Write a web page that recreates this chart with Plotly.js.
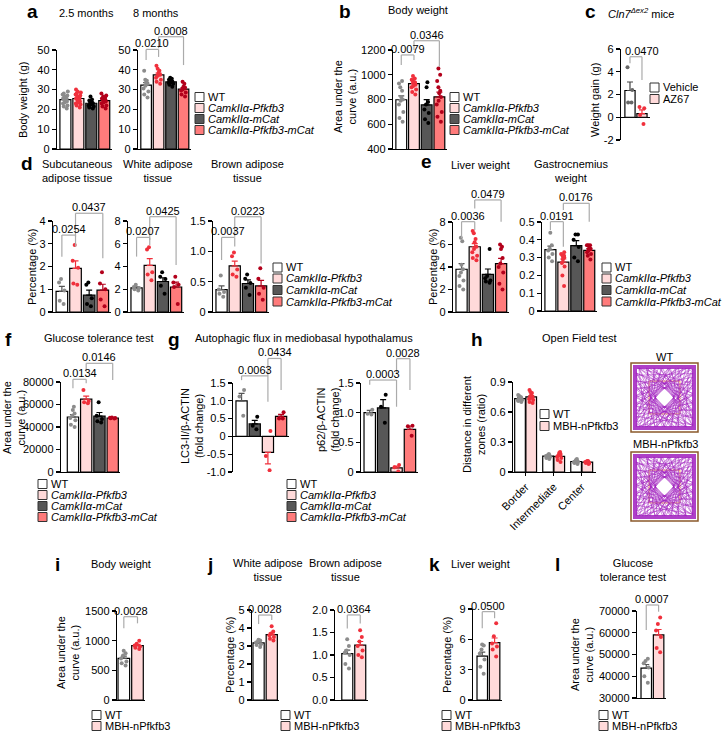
<!DOCTYPE html>
<html><head><meta charset="utf-8">
<script src="https://cdn.plot.ly/plotly-3.0.1.min.js"></script>
<style>body{margin:0;padding:0;background:#fff}#chart{width:722px;height:731px}</style>
</head><body><div id="chart"></div>
<script>
// ================= DATA =================
const camkGroups = ['WT', 'CamkIIα-Pfkfb3', 'CamkIIα-mCat', 'CamkIIα-Pfkfb3-mCat'];
const camkKeys = ['WT', 'P', 'M', 'PM'];
const gGroups = ['WT', 'CamkIIα-mCat', 'CamkIIα-Pfkfb3', 'CamkIIα-Pfkfb3-mCat'];
const gKeys = ['WT', 'M', 'P', 'PM'];
const cGroups = ['Vehicle', 'AZ67'];
const cKeys = ['VEH', 'AZ'];
const mbhGroups = ['WT', 'MBH-nPfkfb3'];
const mbhKeys = ['WT', 'MBH'];

// a: body weight (g)
const a25Mean = [24.9, 25.5, 23.1, 24.4];
const a25Sem = [0.55, 0.55, 0.5, 0.55];
const a25Dots = [
  [20.5, 21.5, 22, 23, 23.5, 24, 24.5, 25, 25, 25.5, 26, 26.5, 27, 27.5, 28, 29],
  [21, 22, 22.5, 23, 23.5, 24, 24.5, 25, 25, 25.5, 26, 26.5, 27, 27.5, 28, 28.5, 29, 30],
  [20.5, 21, 21.5, 22, 22.5, 23, 23, 23.5, 24, 24.5, 25, 26.5],
  [20.5, 21.5, 22, 23, 23.5, 24, 24.5, 25, 25, 25.5, 26, 26.5, 27, 28]
];
const a8Mean = [32.3, 37.4, 33.9, 30.2];
const a8Sem = [1.25, 0.9, 0.4, 0.85];
const a8Dots = [
  [26, 27.5, 29, 30.5, 32, 33, 33.5, 34.5, 35, 39.5],
  [33, 34, 35, 36, 37, 37.5, 38.5, 39.5, 40.5, 42],
  [31.5, 32.5, 33, 33.5, 33.5, 34, 34, 34, 34.5, 35, 35.5, 36],
  [26.5, 27.5, 28.5, 29.5, 30, 31, 31.5, 33, 34]
];
const aPvals = ['0.0210', '0.0008'];
const aTicks = [0, 10, 20, 30, 40, 50];

// b: body weight AUC
const bMean = [798, 928, 757, 822];
const bSem = [32, 13, 42, 38];
const bDots = [
  [620, 650, 700, 760, 790, 800, 820, 870, 900, 930, 950],
  [840, 860, 880, 900, 910, 920, 930, 940, 950, 960, 970, 990],
  [610, 640, 690, 720, 760, 780, 900, 940],
  [620, 660, 700, 760, 790, 820, 850, 870, 900, 950, 1000, 1050]
];
const bPvals = ['0.0079', '0.0346'];
const bTicks = [400, 600, 800, 1000, 1200];

// c: weight gain Cln7 mice
const cMean = [2.35, 0.32];
const cSem = [0.75, 0.33];
const cDots = [[4.4, 2.4, 1.3, 1.3], [0.9, 0.8, 0.2, -0.6]];
const cPvals = ['0.0470'];
const cTicks = [-2, 0, 2, 4, 6];

// d: adipose tissue percentage
const dScMean = [0.91, 1.92, 0.74, 0.96];
const dScSem = [0.22, 0.33, 0.22, 0.26];
const dScDots = [[0.35, 0.5, 0.95, 1.3, 1.45], [1.2, 1.25, 1.95, 2.25, 2.95], [0.25, 0.35, 0.6, 1.2, 1.3], [0.25, 0.55, 1.0, 1.25, 1.75]];
const dScPvals = ['0.0254', '0.0437'];
const dScTicks = [0, 1, 2, 3, 4];
const dWatMean = [2.12, 4.1, 2.68, 2.2];
const dWatSem = [0.09, 0.6, 0.33, 0.42];
const dWatDots = [[1.9, 2.0, 2.1, 2.2, 2.4], [2.8, 3.3, 3.5, 5.5, 5.7], [1.6, 2.3, 2.9, 3.1, 3.5], [0.7, 2.2, 2.4, 2.6, 3.1]];
const dWatPvals = ['0.0207', '0.0425'];
const dWatTicks = [0, 2, 4, 6, 8];
const dBatMean = [0.37, 0.76, 0.47, 0.43];
const dBatSem = [0.06, 0.08, 0.06, 0.09];
const dBatDots = [[0.25, 0.3, 0.33, 0.37, 0.6], [0.58, 0.62, 0.7, 0.92, 0.98], [0.28, 0.4, 0.48, 0.55, 0.62], [0.2, 0.3, 0.4, 0.55, 0.72]];
const dBatPvals = ['0.0037', '0.0223'];
const dBatTicks = [0, 0.5, 1, 1.5];
const dBatTickText = ['0', '0.5', '1.0', '1.5'];

// e: liver / gastrocnemius
const eLivMean = [3.8, 5.8, 3.35, 4.3];
const eLivSem = [0.5, 0.27, 0.47, 0.46];
const eLivDots = [[2.0, 2.3, 2.8, 3.2, 3.5, 3.8, 4.2, 6.3, 6.6], [4.6, 4.8, 5.0, 5.3, 5.6, 5.8, 6.2, 6.5, 7.0, 7.2], [2.6, 2.7, 2.8, 3.0, 3.2, 5.6], [2.0, 2.5, 3.5, 4.0, 4.3, 4.8, 5.6, 5.8, 6.0]];
const eLivPvals = ['0.0036', '0.0479'];
const eLivTicks = [0, 2, 4, 6, 8];
const eGasMean = [0.345, 0.275, 0.367, 0.341];
const eGasSem = [0.02, 0.017, 0.028, 0.009];
const eGasDots = [[0.28, 0.3, 0.32, 0.34, 0.35, 0.37, 0.44], [0.14, 0.2, 0.25, 0.27, 0.29, 0.3, 0.3, 0.31, 0.31, 0.32, 0.33], [0.28, 0.3, 0.36, 0.4, 0.43, 0.43], [0.29, 0.31, 0.32, 0.33, 0.34, 0.35, 0.36, 0.37, 0.37, 0.37]];
const eGasPvals = ['0.0191', '0.0176'];
const eGasTicks = [0, 0.1, 0.2, 0.3, 0.4, 0.5];
const eGasTickText = ['0', '0.1', '0.2', '0.3', '0.4', '0.5'];

// f: glucose tolerance test
const fMean = [48900, 64700, 49600, 48000];
const fSem = [2200, 2800, 3300, 250];
const fDots = [[40000, 42000, 46000, 48000, 50000, 52000, 55000, 58000], [61000, 62000, 63000, 73000], [44000, 45000, 47000, 50000, 62000], [47500, 47700, 48000, 48300, 48500]];
const fPvals = ['0.0134', '0.0146'];
const fTicks = [0, 20000, 40000, 60000, 80000];

// g: autophagic flux (order WT, mCat, Pfkfb3, Pfkfb3-mCat)
const gLc3Mean = [1.0, 0.35, -0.45, 0.56];
const gLc3Sem = [0.21, 0.1, 0.32, 0.06];
const gLc3Dots = [[1.3, 0.58, 1.12], [0.55, 0.3, 0.2], [0.15, -0.55, -0.95], [0.68, 0.5, 0.5]];
const gLc3Pvals = ['0.0063', '0.0434'];
const gLc3Ticks = [-1, -0.5, 0, 0.5, 1, 1.5];
const gLc3TickText = ['-1.0', '-0.5', '0', '0.5', '1.0', '1.5'];
const gP62Mean = [1.0, 1.08, 0.07, 0.72];
const gP62Sem = [0.04, 0.14, 0.03, 0.055];
const gP62Dots = [[1.05, 0.97, 0.98], [1.3, 1.1, 0.83], [0.12, 0.08, 0.01], [0.78, 0.77, 0.61]];
const gP62Pvals = ['0.0003', '0.0028'];
const gP62Ticks = [0, 0.5, 1, 1.5];
const gP62TickText = ['0', '0.5', '1.0', '1.5'];

// h: open field test
const hZones = ['Border', 'Intermediate', 'Center'];
const hWtMean = [0.734, 0.158, 0.105];
const hWtSem = [0.007, 0.006, 0.005];
const hWtDots = [[0.70, 0.71, 0.72, 0.72, 0.73, 0.74, 0.74, 0.75, 0.76, 0.77], [0.13, 0.14, 0.15, 0.16, 0.16, 0.17, 0.17, 0.18], [0.08, 0.09, 0.10, 0.10, 0.11, 0.11, 0.12, 0.13]];
const hMbhMean = [0.751, 0.156, 0.098];
const hMbhSem = [0.013, 0.012, 0.004];
const hMbhDots = [[0.69, 0.70, 0.72, 0.73, 0.74, 0.75, 0.77, 0.79, 0.80, 0.82], [0.10, 0.12, 0.14, 0.15, 0.17, 0.18, 0.19, 0.20], [0.08, 0.09, 0.09, 0.10, 0.10, 0.10, 0.11, 0.11]];
const hTicks = [0, 0.3, 0.6, 0.9];
const hTickText = ['0', '0.3', '0.6', '0.9'];

// i-l: MBH-nPfkfb3
const iMean = [703, 918];
const iSem = [35, 21];
const iDots = [[580, 620, 650, 700, 750, 790, 830], [860, 880, 900, 920, 950, 1000]];
const iPvals = ['0.0028'];
const iTicks = [0, 500, 1000, 1500];
const jWatMean = [3.17, 3.63];
const jWatSem = [0.05, 0.1];
const jWatDots = [[2.95, 3.05, 3.1, 3.2, 3.25, 3.3, 3.35], [3.3, 3.4, 3.5, 3.6, 3.7, 3.8, 4.1]];
const jWatPvals = ['0.0028'];
const jWatTicks = [0, 1, 2, 3, 4, 5];
const jBatMean = [1.03, 1.22];
const jBatSem = [0.08, 0.08];
const jBatDots = [[0.7, 0.8, 1.0, 1.05, 1.1, 1.2, 1.35], [0.95, 1.0, 1.1, 1.2, 1.3, 1.4, 1.55]];
const jBatPvals = ['0.0364'];
const jBatTicks = [0, 0.5, 1, 1.5, 2];
const jBatTickText = ['0.0', '0.5', '1.0', '1.5', '2.0'];
const kMean = [4.34, 5.68];
const kSem = [0.4, 0.45];
const kDots = [[2.6, 3.3, 4.0, 4.6, 5.0, 5.4, 5.5], [4.3, 5.0, 5.3, 5.6, 6.3, 7.6]];
const kPvals = ['0.0500'];
const kTicks = [0, 3, 6, 9];
const lMean = [43700, 59000];
const lSem = [1700, 2500];
const lDots = [[37000, 40000, 44000, 46000, 47000, 48000], [51000, 53000, 58000, 61000, 64000, 67000]];
const lPvals = ['0.0007'];
const lTicks = [30000, 40000, 50000, 60000, 70000];

// ================= STYLE / LAYOUT =================
const FONT = '"Liberation Sans", Arial, Helvetica, sans-serif';
const W = 722, H = 731;
const ST = {
  WT: {fill: '#ffffff', dot: '#8c8c8c', err: '#555555'},
  P: {fill: '#ffdada', dot: '#f0303c', err: '#f0303c'},
  M: {fill: '#575757', dot: '#000000', err: '#000000'},
  PM: {fill: '#ff7b7b', dot: '#b3001b', err: '#b3001b'},
  VEH: {fill: '#ffffff', dot: '#666666', err: '#444444'},
  AZ: {fill: '#ffdada', dot: '#f0303c', err: '#f0303c'},
  MBH: {fill: '#ffdada', dot: '#f0303c', err: '#f0303c'}
};
const data = [], shapes = [], annotations = [];
const layout = {
  width: W, height: H, margin: {l: 0, r: 0, t: 0, b: 0},
  paper_bgcolor: '#ffffff', plot_bgcolor: 'rgba(0,0,0,0)',
  showlegend: false, barmode: 'overlay', boxmode: 'overlay',
  font: {family: FONT, size: 11, color: '#000'},
  shapes: shapes, annotations: annotations
};
let n = 0;
function groupSeries(keys, mean, sem, dots) {
  return keys.map((k, i) => ({key: k, pos: [i], mean: [mean[i]], sem: [sem[i]], dots: [dots[i]]}));
}
function panel(cfg) {
  n++;
  const s = n === 1 ? '' : String(n);
  const xa = 'x' + s, ya = 'y' + s;
  const xl = cfg.xlabels;
  const xaxis = {
    domain: [cfg.px[0] / W, cfg.px[1] / W], range: cfg.xr, anchor: ya,
    showline: !cfg.zero, linecolor: '#000', linewidth: 1.2,
    showgrid: false, zeroline: false, fixedrange: true,
    ticks: xl ? 'outside' : '', showticklabels: !!xl
  };
  if (xl) {
    Object.assign(xaxis, {ticklen: 3, tickwidth: 1.2, tickcolor: '#000',
      tickvals: xl.map((_, i) => i), ticktext: xl, tickangle: -45,
      tickfont: {family: FONT, size: 11, color: '#000'}});
  }
  layout['xaxis' + s] = xaxis;
  layout['yaxis' + s] = {
    domain: [1 - cfg.py[1] / H, 1 - cfg.py[0] / H], range: cfg.yr, anchor: xa,
    showline: true, linecolor: '#000', linewidth: 1.2,
    ticks: 'outside', ticklen: 4, tickwidth: 1.2, tickcolor: '#000',
    tickvals: cfg.tv, ticktext: cfg.tt || cfg.tv.map(String),
    tickfont: {family: FONT, size: 11, color: '#000'},
    showgrid: false, zeroline: !!cfg.zero, zerolinecolor: '#000', zerolinewidth: 1.2,
    fixedrange: true
  };
  cfg.series.forEach(se => {
    const st = ST[se.key];
    data.push({
      type: 'bar', x: se.pos, y: se.mean, width: cfg.bw || 0.85, xaxis: xa, yaxis: ya,
      marker: {color: st.fill, line: {color: '#000', width: 1.2}},
      error_y: {type: 'data', symmetric: false,
        array: se.mean.map((m, i) => m < 0 ? 0 : se.sem[i]),
        arrayminus: se.mean.map((m, i) => m < 0 ? se.sem[i] : 0),
        color: st.err, thickness: 1.2, width: 3},
      hoverinfo: 'skip'
    });
  });
  cfg.series.forEach(se => {
    const st = ST[se.key];
    se.dots.forEach((d, i) => {
      data.push({
        type: 'box', orientation: 'v', x: d.map(() => se.pos[i]), y: d, xaxis: xa, yaxis: ya,
        boxpoints: 'all', jitter: cfg.jit || 1.0, pointpos: 0,
        fillcolor: 'rgba(0,0,0,0)', line: {width: 0, color: 'rgba(0,0,0,0)'}, whiskerwidth: 0,
        marker: {color: st.dot, size: 4}, hoverinfo: 'skip'
      });
    });
  });
  const fx = v => (v - cfg.xr[0]) / (cfg.xr[1] - cfg.xr[0]);
  const fy = v => (v - cfg.yr[0]) / (cfg.yr[1] - cfg.yr[0]);
  (cfg.br || []).forEach((b, k) => {
    const [ia, ib, top, la, lb] = b;
    const xA = fx(ia), xB = fx(ib), yT = fy(top);
    const ln = {color: '#ababab', width: 1.2};
    const ref = {xref: xa + ' domain', yref: ya + ' domain'};
    shapes.push(Object.assign({type: 'line', x0: xA, x1: xA, y0: fy(la), y1: yT, line: ln}, ref));
    shapes.push(Object.assign({type: 'line', x0: xA, x1: xB, y0: yT, y1: yT, line: ln}, ref));
    shapes.push(Object.assign({type: 'line', x0: xB, x1: xB, y0: yT, y1: fy(lb), line: ln}, ref));
    annotations.push(Object.assign({x: (xA + xB) / 2, y: yT, text: cfg.pv[k], showarrow: false,
      xanchor: 'center', yanchor: 'bottom', yshift: -2, xshift: cfg.pdx || 0,
      font: {family: FONT, size: 11, color: '#000'}}, ref));
  });
}
function txt(t, x, y, opt) {
  annotations.push(Object.assign({xref: 'paper', yref: 'paper', x: x / W, y: 1 - y / H, text: t,
    showarrow: false, xanchor: 'center', yanchor: 'middle',
    font: {family: FONT, size: 11, color: '#000'}}, opt || {}));
}
function ytitle(t, x, y) { txt(t, x, y, {textangle: -90}); }
function letter(t, x, y) { txt('<b>' + t + '</b>', x, y, {borderpad: 0, font: {family: FONT, size: 19, color: '#000'}}); }
function lab(g) { return g.indexOf('Camk') === 0 ? '<i>' + g + '</i>' : g; }
function legend(x, ys, groups, keys) {
  groups.forEach((g, i) => {
    const y = ys[i];
    shapes.push({type: 'rect', xref: 'paper', yref: 'paper', x0: x / W, x1: (x + 9) / W,
      y0: 1 - (y + 4.5) / H, y1: 1 - (y - 4.5) / H, line: {color: '#333', width: 1}, fillcolor: ST[keys[i]].fill});
    txt(lab(g), x + 11, y, {xanchor: 'left'});
  });
}
function arena(x0, y0, x1, y1) {
  const px = x => x / W, py = y => 1 - y / H;
  shapes.push({type: 'rect', xref: 'paper', yref: 'paper', x0: px(x0), x1: px(x1), y0: py(y1), y1: py(y0),
    line: {color: '#8b5a2b', width: 1.5}, fillcolor: '#ffffff'});
  const m = 5, ix0 = x0 + m, ix1 = x1 - m, iy0 = y0 + m, iy1 = y1 - m;
  const q = (x1 - x0) * 0.27;
  shapes.push({type: 'rect', xref: 'paper', yref: 'paper', x0: px(x0 + q), x1: px(x1 - q), y0: py(y1 - q), y1: py(y0 + q),
    line: {color: '#f2a65a', width: 1}});
  const per = t => {
    t = t % 4;
    if (t < 1) return [ix0 + (ix1 - ix0) * t, iy0];
    if (t < 2) return [ix1, iy0 + (iy1 - iy0) * (t - 1)];
    if (t < 3) return [ix1 - (ix1 - ix0) * (t - 2), iy1];
    return [ix0, iy1 - (iy1 - iy0) * (t - 3)];
  };
  [[29, 11], [23, 7], [31, 13]].forEach(([N, step]) => {
    let d = '';
    for (let i = 0; i <= N; i++) {
      const j = (i * step) % N;
      const p = per(j * 4 / N + 0.05);
      d += (i ? 'L' : 'M') + px(p[0]).toFixed(5) + ',' + py(p[1]).toFixed(5);
    }
    shapes.push({type: 'path', xref: 'paper', yref: 'paper', path: d, line: {color: 'rgba(160,30,190,0.7)', width: 0.7}});
  });
  shapes.push({type: 'rect', xref: 'paper', yref: 'paper', x0: px(ix0 - 1), x1: px(ix1 + 1), y0: py(iy1 + 1), y1: py(iy0 - 1),
    line: {color: 'rgba(160,30,190,0.85)', width: 4}});
}

// ================= PANELS =================
const X4 = [-0.65, 3.6];
panel({px: [57, 112], py: [50, 149], xr: X4, yr: [0, 50], tv: aTicks, series: groupSeries(camkKeys, a25Mean, a25Sem, a25Dots)});
panel({px: [138, 191], py: [50, 149], xr: X4, yr: [0, 50], tv: aTicks, series: groupSeries(camkKeys, a8Mean, a8Sem, a8Dots),
  br: [[0, 1, 50.3, 45, 46.5], [1, 3, 56.7, 50.9, 42.4]], pv: aPvals});
panel({px: [393, 447], py: [50, 149], xr: X4, yr: [400, 1200], tv: bTicks, series: groupSeries(camkKeys, bMean, bSem, bDots),
  br: [[0, 1, 1160, 1079, 1119], [1, 3, 1275, 1200, 1065]], pv: bPvals});
panel({px: [621, 650], py: [49, 140], xr: [-0.75, 1.67], yr: [-2, 6], tv: cTicks, zero: true, series: groupSeries(cKeys, cMean, cSem, cDots),
  br: [[0, 1, 5.32, 4.74, 3.27]], pv: cPvals, pdx: 6});
panel({px: [53, 111], py: [221, 312], xr: X4, yr: [0, 4], tv: dScTicks, series: groupSeries(camkKeys, dScMean, dScSem, dScDots),
  br: [[0, 1, 3.38, 2.43, 2.87], [1, 3, 4.34, 3.31, 2.36]], pv: dScPvals});
panel({px: [128, 184], py: [221, 312], xr: X4, yr: [0, 8], tv: dWatTicks, series: groupSeries(camkKeys, dWatMean, dWatSem, dWatDots),
  br: [[0, 1, 6.56, 4.87, 5.89], [1, 3, 8.38, 6.33, 4.13]], pv: dWatPvals});
panel({px: [213, 269], py: [221, 312], xr: X4, yr: [0, 1.5], tv: dBatTicks, tt: dBatTickText, series: groupSeries(camkKeys, dBatMean, dBatSem, dBatDots),
  br: [[0, 1, 1.23, 0.857, 1.08], [1, 3, 1.57, 1.24, 0.80]], pv: dBatPvals});
panel({px: [453, 509], py: [222, 312], xr: X4, yr: [0, 8], tv: eLivTicks, series: groupSeries(camkKeys, eLivMean, eLivSem, eLivDots),
  br: [[0, 1, 8.03, 6.55, 7.29], [1, 3, 9.96, 9.2, 8.03]], pv: eLivPvals});
panel({px: [542, 597], py: [222, 311], xr: X4, yr: [0, 0.5], tv: eGasTicks, tt: eGasTickText, series: groupSeries(camkKeys, eGasMean, eGasSem, eGasDots),
  br: [[0, 1, 0.502, 0.455, 0.361], [1, 3, 0.605, 0.567, 0.502]], pv: eGasPvals});
panel({px: [61, 120], py: [382, 472], xr: [-0.9, 3.55], yr: [0, 80000], tv: fTicks, series: groupSeries(camkKeys, fMean, fSem, fDots),
  br: [[0, 1, 82400, 74400, 78800], [1, 3, 96600, 89200, 81800]], pv: fPvals});
panel({px: [233, 289], py: [383, 472], xr: X4, yr: [-1, 1.5], tv: gLc3Ticks, tt: gLc3TickText, zero: true, series: groupSeries(gKeys, gLc3Mean, gLc3Sem, gLc3Dots),
  br: [[0, 2, 1.70, 1.58, 0.97], [2, 3, 2.19, 1.70, 1.30]], pv: gLc3Pvals});
panel({px: [361, 418], py: [383, 472], xr: X4, yr: [0, 1.5], tv: gP62Ticks, tt: gP62TickText, series: groupSeries(gKeys, gP62Mean, gP62Sem, gP62Dots),
  br: [[0, 2, 1.55, 1.47, 1.10], [2, 3, 1.91, 1.66, 1.38]], pv: gP62Pvals});
panel({px: [513, 596], py: [382, 472], xr: [-0.45, 2.51], yr: [0, 0.9], tv: hTicks, tt: hTickText, xlabels: hZones, bw: 0.38, jit: 1.0,
  series: [
    {key: 'WT', pos: hZones.map((_, i) => i - 0.2), mean: hWtMean, sem: hWtSem, dots: hWtDots},
    {key: 'MBH', pos: hZones.map((_, i) => i + 0.2), mean: hMbhMean, sem: hMbhSem, dots: hMbhDots}
  ]});
panel({px: [117, 145], py: [611, 700], xr: [-0.5, 1.55], yr: [0, 1500], tv: iTicks, series: groupSeries(mbhKeys, iMean, iSem, iDots),
  br: [[0, 1, 1404, 1208, 1292]], pv: iPvals});
panel({px: [252, 279], py: [610, 700], xr: [-0.5, 1.55], yr: [0, 5], tv: jWatTicks, series: groupSeries(mbhKeys, jWatMean, jWatSem, jWatDots),
  br: [[0, 1, 4.72, 4.22, 4.44]], pv: jWatPvals});
panel({px: [335, 368], py: [610, 700], xr: [-0.95, 1.6], yr: [0, 2], tv: jBatTicks, tt: jBatTickText, series: groupSeries(mbhKeys, jBatMean, jBatSem, jBatDots),
  br: [[0, 1, 1.89, 1.59, 1.70]], pv: jBatPvals});
panel({px: [473, 502], py: [609, 700], xr: [-0.75, 1.6], yr: [0, 9], tv: kTicks, series: groupSeries(mbhKeys, kMean, kSem, kDots),
  br: [[0, 1, 8.74, 7.10, 8.09]], pv: kPvals});
panel({px: [637, 666], py: [611, 698], xr: [-0.75, 1.6], yr: [30000, 70000], tv: lTicks, series: groupSeries(mbhKeys, lMean, lSem, lDots),
  br: [[0, 1, 72760, 61270, 69680]], pv: lPvals});

// ================= TEXT =================
[['a', 32, 11], ['b', 345, 11], ['c', 590, 11], ['d', 27, 164], ['e', 426, 162], ['f', 8, 339], ['g', 174, 339],
 ['h', 477, 339], ['i', 57, 564], ['j', 210, 564], ['k', 434, 564], ['l', 557, 564]].forEach(l => letter(l[0], l[1], l[2]));

[['2.5 months', 86, 13], ['8 months', 156, 13], ['Body weight', 418, 10],
 ['<i>Cln7</i><sup><i>Δex2</i></sup> mice', 641, 13],
 ['Subcutaneous<br>adipose tissue', 77, 171], ['White adipose<br>tissue', 158, 171], ['Brown adipose<br>tissue', 247, 171],
 ['Liver weight', 480, 165], ['Gastrocnemius<br>weight', 571, 171],
 ['Glucose tolerance test', 98, 338], ['Autophagic flux in mediobasal hypothalamus', 304, 338], ['Open Field test', 579, 338],
 ['WT', 664, 357], ['MBH-nPfkfb3', 665, 444],
 ['Body weight', 121, 564], ['White adipose<br>tissue', 268, 570], ['Brown adipose<br>tissue', 345, 570],
 ['Liver weight', 480, 564], ['Glucose<br>tolerance test', 633, 570]].forEach(t => txt(t[0], t[1], t[2]));

[['Body weight (g)', 23, 100], ['Area under the<br>curve (a.u.)', 345, 97], ['Weight gain (g)', 595, 100],
 ['Percentage (%)', 32, 267], ['Percentage (%)', 433, 267], ['Area under the<br>curve (a.u.)', 14, 418],
 ['LC3-II/β-ACTIN<br>(fold change)', 192, 426], ['p62/β-ACTIN<br>(fold change)', 328, 420],
 ['Distance in different<br>zones (ratio)', 474, 424], ['Area under the<br>curve (a.u.)', 68, 653],
 ['Percentage (%)', 230, 655], ['Percentage (%)', 447, 655], ['Area under the<br>curve (a.u.)', 582, 655]].forEach(t => ytitle(t[0], t[1], t[2]));

legend(195, [97, 108, 119, 130], camkGroups, camkKeys);
legend(450, [97, 108, 119, 130], camkGroups, camkKeys);
legend(650, [87.5, 99], cGroups, cKeys);
legend(273, [267.5, 278.5, 290, 301.5], camkGroups, camkKeys);
legend(602, [267.5, 278.5, 290, 301.5], camkGroups, camkKeys);
legend(38, [484, 495, 506, 517], camkGroups, camkKeys);
legend(287, [484, 495, 506, 517], camkGroups, camkKeys);
legend(540, [414, 426], mbhGroups, mbhKeys);
legend(92, [715, 726], mbhGroups, mbhKeys);
legend(281, [715, 726], mbhGroups, mbhKeys);
legend(442, [715, 726], mbhGroups, mbhKeys);
legend(599, [715, 726], mbhGroups, mbhKeys);

arena(631, 363, 698, 432);
arena(631, 452, 698, 521);

Plotly.newPlot('chart', data, layout, {staticPlot: true, displayModeBar: false});
</script>
</body></html>
